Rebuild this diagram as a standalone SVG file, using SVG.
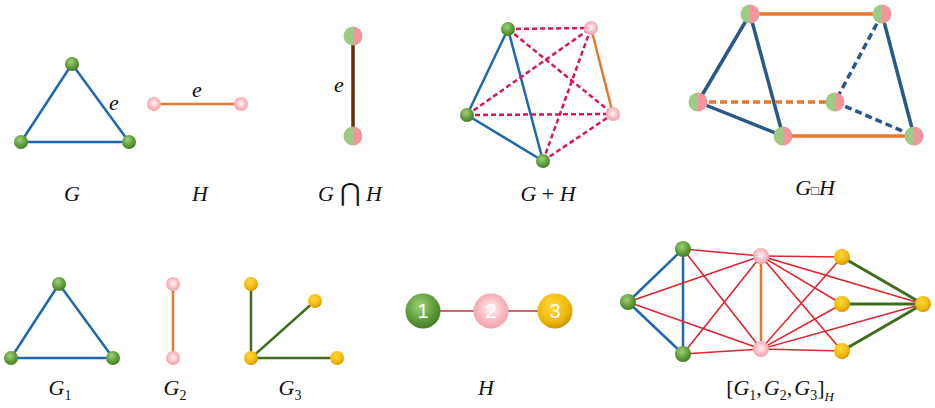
<svg xmlns="http://www.w3.org/2000/svg" xmlns:xlink="http://www.w3.org/1999/xlink" width="935" height="408" viewBox="0 0 935 408">
<style>
.lbl{font-family:"Liberation Serif","Times New Roman",serif;font-style:italic;font-size:22px;fill:#111;text-anchor:middle}
.up{font-style:normal}
.sub{font-style:normal;font-size:14px}
.num{font-family:"Liberation Sans",Arial,sans-serif;font-size:20px;fill:#fff;text-anchor:middle}
.blue{stroke:#1f68b0;stroke-width:2.5;fill:none}
.blue2{stroke:#2a5888;stroke-width:3.5;fill:none}
.orange{stroke:#e8772e;stroke-width:2.5;fill:none}
.orange2{stroke:#e8772e;stroke-width:3.5;fill:none}
.brown{stroke:#6b2a0a;stroke-width:3.5;fill:none}
.rdash{stroke:#d6175a;stroke-width:2.5;stroke-dasharray:5 3;fill:none}
.red{stroke:#e02530;stroke-width:1.6;fill:none}
.hred{stroke:#c8303a;stroke-width:1.6;fill:none}
.dgreen{stroke:#3f6d1d;stroke-width:3;fill:none}
.dgreen2{stroke:#3f6d1d;stroke-width:2.5;fill:none}
.dash{stroke-dasharray:7 4}
.g{fill:url(#gG)}
.p{fill:url(#gP)}
.y{fill:url(#gY)}
</style>
<defs>
<radialGradient id="gG" cx="0.42" cy="0.35" r="0.7">
<stop offset="0" stop-color="#9fd07a"/><stop offset="0.6" stop-color="#5f9b3a"/><stop offset="1" stop-color="#3f7624"/>
</radialGradient>
<radialGradient id="gP" cx="0.5" cy="0.45" r="0.6">
<stop offset="0" stop-color="#fff4f5"/><stop offset="0.6" stop-color="#f9b9c0"/><stop offset="1" stop-color="#f29aa4"/>
</radialGradient>
<radialGradient id="gY" cx="0.42" cy="0.35" r="0.7">
<stop offset="0" stop-color="#ffd93a"/><stop offset="0.65" stop-color="#efb80c"/><stop offset="1" stop-color="#c98f00"/>
</radialGradient>
<g id="split">
<path d="M0,-9.5 A9.5,9.5 0 0 0 0,9.5 Z" fill="#9ccb86"/>
<path d="M0,-9.5 A9.5,9.5 0 0 1 0,9.5 Z" fill="#f4959d"/>
</g>
</defs>
<rect width="935" height="408" fill="#fff"/>

<g id="connectors">
<g id="c-G">
<line class="blue" x1="72" y1="64" x2="21" y2="142"/>
<line class="blue" x1="72" y1="64" x2="129" y2="142"/>
<line class="blue" x1="21" y1="142" x2="129" y2="142"/>
</g>
<g id="c-H"><line class="orange" x1="154" y1="104" x2="241" y2="104"/></g>
<g id="c-GcapH"><line class="brown" x1="353" y1="36" x2="353" y2="136"/></g>
<g id="c-GplusH">
<line class="blue" x1="508" y1="29" x2="467" y2="115"/>
<line class="blue" x1="508" y1="29" x2="543" y2="161"/>
<line class="blue" x1="467" y1="115" x2="543" y2="161"/>
<line class="orange" x1="591" y1="28" x2="613" y2="114"/>
<line class="rdash" x1="508" y1="29" x2="591" y2="28"/>
<line class="rdash" x1="508" y1="29" x2="613" y2="114"/>
<line class="rdash" x1="467" y1="115" x2="591" y2="28"/>
<line class="rdash" x1="467" y1="115" x2="613" y2="114"/>
<line class="rdash" x1="543" y1="161" x2="591" y2="28"/>
<line class="rdash" x1="543" y1="161" x2="613" y2="114"/>
</g>
<g id="c-GboxH">
<line class="blue2" x1="750" y1="14" x2="698" y2="102"/>
<line class="blue2" x1="750" y1="14" x2="783" y2="136"/>
<line class="blue2" x1="698" y1="102" x2="783" y2="136"/>
<line class="blue2" x1="882" y1="14" x2="914" y2="136"/>
<line class="blue2 dash" x1="882" y1="14" x2="835" y2="102"/>
<line class="blue2 dash" x1="835" y1="102" x2="914" y2="136"/>
<line class="orange2" x1="750" y1="14" x2="882" y2="14"/>
<line class="orange2" x1="783" y1="136" x2="914" y2="136"/>
<line class="orange2 dash" x1="698" y1="102" x2="835" y2="102"/>
</g>
<g id="c-G1">
<line class="blue" x1="59" y1="284" x2="11" y2="358"/>
<line class="blue" x1="59" y1="284" x2="113" y2="358"/>
<line class="blue" x1="11" y1="358" x2="113" y2="358"/>
</g>
<g id="c-G2"><line class="orange" x1="173" y1="284" x2="173" y2="358"/></g>
<g id="c-G3">
<line class="dgreen2" x1="251" y1="358" x2="251" y2="284"/>
<line class="dgreen2" x1="251" y1="358" x2="315" y2="301"/>
<line class="dgreen2" x1="251" y1="358" x2="337" y2="358"/>
</g>
<g id="c-Hpath">
<line class="hred" x1="423" y1="311" x2="491" y2="311"/>
<line class="hred" x1="491" y1="311" x2="555" y2="311"/>
</g>
<g id="c-join">
<line class="blue" x1="628" y1="302" x2="683" y2="249"/>
<line class="blue" x1="628" y1="302" x2="683" y2="354"/>
<line class="blue" x1="683" y1="249" x2="683" y2="354"/>
<line class="orange" x1="761" y1="256" x2="761" y2="349"/>
<line class="dgreen" x1="842" y1="257" x2="923" y2="304"/>
<line class="dgreen" x1="842" y1="304" x2="923" y2="304"/>
<line class="dgreen" x1="842" y1="351" x2="923" y2="304"/>
<line class="red" x1="683" y1="249" x2="761" y2="256"/>
<line class="red" x1="683" y1="249" x2="761" y2="349"/>
<line class="red" x1="628" y1="302" x2="761" y2="256"/>
<line class="red" x1="628" y1="302" x2="761" y2="349"/>
<line class="red" x1="683" y1="354" x2="761" y2="256"/>
<line class="red" x1="683" y1="354" x2="761" y2="349"/>
<line class="red" x1="761" y1="256" x2="842" y2="257"/>
<line class="red" x1="761" y1="256" x2="842" y2="304"/>
<line class="red" x1="761" y1="256" x2="842" y2="351"/>
<line class="red" x1="761" y1="256" x2="923" y2="304"/>
<line class="red" x1="761" y1="349" x2="842" y2="257"/>
<line class="red" x1="761" y1="349" x2="842" y2="304"/>
<line class="red" x1="761" y1="349" x2="842" y2="351"/>
<line class="red" x1="761" y1="349" x2="923" y2="304"/>
</g>
</g>

<g id="panel-G">
<g id="G-a"><circle class="g" cx="72" cy="64" r="7"/></g>
<g id="G-b"><circle class="g" cx="21" cy="142" r="7"/></g>
<g id="G-c"><circle class="g" cx="129" cy="142" r="7"/></g>
<text class="lbl" x="114" y="110">e</text>
<text class="lbl" x="72" y="201">G</text>
</g>
<g id="panel-H">
<g id="H-a"><circle class="p" cx="154" cy="104" r="7"/></g>
<g id="H-b"><circle class="p" cx="241" cy="104" r="7"/></g>
<text class="lbl" x="197" y="97">e</text>
<text class="lbl" x="200" y="201">H</text>
</g>
<g id="panel-GcapH">
<g id="GcapH-a"><use href="#split" x="353" y="36"/></g>
<g id="GcapH-b"><use href="#split" x="353" y="136"/></g>
<text class="lbl" x="339" y="92">e</text>
<text class="lbl" x="350" y="201">G <tspan class="up" font-size="25">⋂</tspan> H</text>
</g>
<g id="panel-GplusH">
<g id="GpH-a"><circle class="g" cx="508" cy="29" r="7"/></g>
<g id="GpH-b"><circle class="p" cx="591" cy="28" r="7"/></g>
<g id="GpH-c"><circle class="g" cx="467" cy="115" r="7"/></g>
<g id="GpH-d"><circle class="p" cx="613" cy="114" r="7"/></g>
<g id="GpH-e"><circle class="g" cx="543" cy="161" r="7"/></g>
<text class="lbl" x="548" y="201">G <tspan class="up">+</tspan> H</text>
</g>
<g id="panel-GboxH">
<g id="GbH-a"><use href="#split" x="750" y="14"/></g>
<g id="GbH-b"><use href="#split" x="882" y="14"/></g>
<g id="GbH-c"><use href="#split" x="698" y="102"/></g>
<g id="GbH-d"><use href="#split" x="835" y="102"/></g>
<g id="GbH-e"><use href="#split" x="783" y="136"/></g>
<g id="GbH-f"><use href="#split" x="914" y="136"/></g>
<text class="lbl" x="815" y="195">G<tspan class="up" font-size="13">□</tspan>H</text>
</g>
<g id="panel-G1">
<g id="G1-a"><circle class="g" cx="59" cy="284" r="7"/></g>
<g id="G1-b"><circle class="g" cx="11" cy="358" r="7"/></g>
<g id="G1-c"><circle class="g" cx="113" cy="358" r="7"/></g>
<text class="lbl" x="60" y="395">G<tspan class="sub" dy="5">1</tspan></text>
</g>
<g id="panel-G2">
<g id="G2-a"><circle class="p" cx="173" cy="284" r="7"/></g>
<g id="G2-b"><circle class="p" cx="173" cy="358" r="7"/></g>
<text class="lbl" x="175" y="395">G<tspan class="sub" dy="5">2</tspan></text>
</g>
<g id="panel-G3">
<g id="G3-a"><circle class="y" cx="251" cy="284" r="7"/></g>
<g id="G3-b"><circle class="y" cx="315" cy="301" r="7"/></g>
<g id="G3-c"><circle class="y" cx="251" cy="358" r="7"/></g>
<g id="G3-d"><circle class="y" cx="337" cy="358" r="7"/></g>
<text class="lbl" x="290" y="395">G<tspan class="sub" dy="5">3</tspan></text>
</g>
<g id="panel-Hpath">
<g id="Hp-1"><circle class="g" cx="423" cy="311" r="17.5"/><text class="num" x="423" y="318">1</text></g>
<g id="Hp-2"><circle class="p" cx="491" cy="311" r="17.5"/><text class="num" x="491" y="318">2</text></g>
<g id="Hp-3"><circle class="y" cx="555" cy="311" r="17.5"/><text class="num" x="555" y="318">3</text></g>
<text class="lbl" x="486" y="395">H</text>
</g>
<g id="panel-join">
<g id="J-g1"><circle class="g" cx="683" cy="249" r="8"/></g>
<g id="J-g2"><circle class="g" cx="628" cy="302" r="8"/></g>
<g id="J-g3"><circle class="g" cx="683" cy="354" r="8"/></g>
<g id="J-p1"><circle class="p" cx="761" cy="256" r="8"/></g>
<g id="J-p2"><circle class="p" cx="761" cy="349" r="8"/></g>
<g id="J-y1"><circle class="y" cx="842" cy="257" r="8"/></g>
<g id="J-y2"><circle class="y" cx="842" cy="304" r="8"/></g>
<g id="J-y3"><circle class="y" cx="842" cy="351" r="8"/></g>
<g id="J-y4"><circle class="y" cx="923" cy="304" r="8"/></g>
<text class="lbl" x="780" y="395"><tspan class="up">[</tspan>G<tspan class="sub" dy="5">1</tspan><tspan class="up" dy="-5">,</tspan><tspan dx="2">G</tspan><tspan class="sub" dy="5">2</tspan><tspan class="up" dy="-5">,</tspan><tspan dx="2">G</tspan><tspan class="sub" dy="5">3</tspan><tspan class="up" dy="-5">]</tspan><tspan font-size="13" dy="6">H</tspan></text>
</g>
</svg>
